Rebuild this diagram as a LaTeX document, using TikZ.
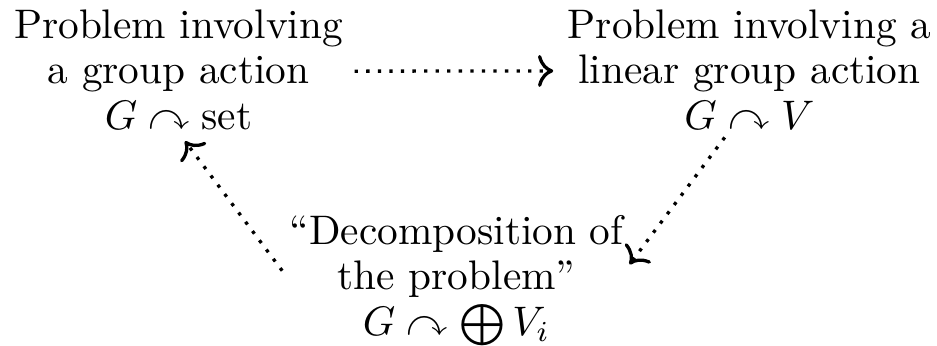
\documentclass[tikz,border=0pt]{standalone}
\usepackage{amsmath,amssymb}
\usetikzlibrary{arrows.meta}

\tikzset{
  probbox/.style={align=center,font=\fontsize{10}{11}\selectfont,anchor=base},
  dotarrow/.style={-{Computer Modern Rightarrow[scale=1.1]},dotted,thick}
}

\begin{document}
\begin{tikzpicture}[x=1cm,y=1cm]
\useasboundingbox (0,0) rectangle (7.974,-2.936);
% the three problems
\node[probbox] (A) at (1.519,-1.098) {Problem involving\\a group action\\$G\curvearrowright\text{set}$};
\node[probbox] (B) at (6.378,-1.098) {Problem involving a\\linear group action\\$G\curvearrowright V$};
\node[probbox] (C) at (3.885,-2.851) {``Decomposition of\\the problem''\\$G\curvearrowright\bigoplus V_i$};
% arrows
\draw[dotarrow] ([shift={(-0.7pt,-0.4pt)}]A.east)--([yshift=-0.4pt]B.west);
\draw[dotarrow] ([shift={(-6pt,1.5pt)}]B.south)--([xshift=-2pt]C.5);
\draw[dotarrow] ([xshift=1.7pt]C.177)--([yshift=0.7pt]A.275);
\end{tikzpicture}
\end{document}
